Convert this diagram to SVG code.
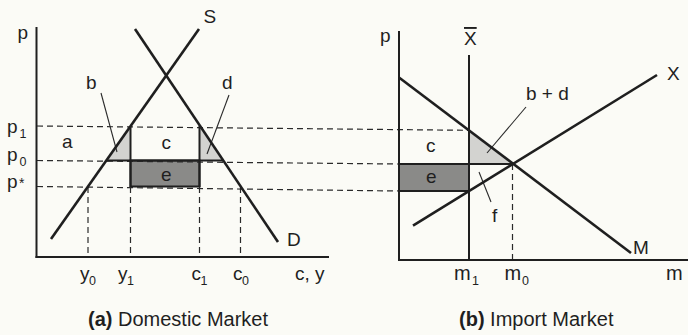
<svg xmlns="http://www.w3.org/2000/svg" width="688" height="335" viewBox="0 0 688 335">
<style>
.bg{fill:#fbfbf6}
.ax{stroke:#1f1f1f;stroke-width:2;fill:none;stroke-linecap:square}
.cv{stroke:#1f1f1f;stroke-width:2.6;fill:none;stroke-linecap:butt}
.sl{stroke:#1f1f1f;stroke-width:2;fill:none}
.ds{stroke:#2a2a2a;stroke-width:1.2;fill:none;stroke-dasharray:6 4}
.ld{stroke:#2a2a2a;stroke-width:1.1;fill:none}
.lt{fill:#d3d3d0}
.dk{fill:#8a8a88;stroke:#1f1f1f;stroke-width:2}
text{font-family:"Liberation Sans",Arial,sans-serif;fill:#1f1f1f}
.lb{font-size:19px}
.mm{font-size:20px}
.sb{font-size:12.5px}
.tt{font-size:20px}
</style>
<rect class="bg" x="0" y="0" width="688" height="335"/>

<g id="shading">
  <polygon class="lt" points="106.5,160.5 130.5,126 130.5,160.5"/>
  <polygon class="lt" points="200,126 200,160.5 223,160.5"/>
  <polygon class="lt" points="469,130.5 469,164 513,164"/>
  <rect class="dk" x="130.5" y="160.5" width="69" height="26"/>
  <rect class="dk" x="399" y="164" width="70" height="27"/>
</g>

<g id="connectors">
  <line class="ds" x1="37" y1="126" x2="469" y2="130.3"/>
  <line class="ds" x1="37" y1="160.5" x2="399" y2="164"/>
  <line class="ds" x1="37" y1="186.5" x2="399" y2="191"/>
  <line class="ds" x1="88" y1="187" x2="88" y2="257"/>
  <line class="ds" x1="130.5" y1="187" x2="130.5" y2="257"/>
  <line class="ds" x1="199.5" y1="187" x2="199.5" y2="257"/>
  <line class="ds" x1="240.5" y1="187" x2="240.5" y2="257"/>
  <line class="ds" x1="512.5" y1="164" x2="512.5" y2="260"/>
  <line class="sl" x1="130.5" y1="126" x2="130.5" y2="187"/>
  <line class="sl" x1="199.5" y1="126" x2="199.5" y2="187"/>
  <line class="sl" x1="106" y1="160.5" x2="223" y2="160.5"/>
  <line class="sl" x1="399" y1="164" x2="513" y2="164"/>
  <line class="ld" x1="101" y1="93" x2="117" y2="152"/>
  <line class="ld" x1="229" y1="95" x2="207" y2="154"/>
  <line class="ld" x1="526" y1="107" x2="487" y2="153"/>
  <line class="ld" x1="479" y1="172" x2="491" y2="202"/>
</g>

<g id="domestic-axes">
  <line class="ax" x1="36.5" y1="28" x2="36.5" y2="257"/>
  <line class="ax" x1="36.5" y1="257" x2="328" y2="257"/>
  <text class="lb" x="17.5" y="38.5">p</text>
  <text class="lb" x="7" y="133">p</text><text class="sb" x="19.5" y="137.5">1</text>
  <text class="lb" x="7" y="161">p</text><text class="sb" x="19.5" y="165.5">0</text>
  <text class="lb" x="7" y="187.5">p</text><text class="sb" x="19" y="188" style="font-size:14px">*</text>
  <text class="lb" x="80" y="280">y</text><text class="sb" x="89" y="285">0</text>
  <text class="lb" x="118" y="280">y</text><text class="sb" x="127" y="285">1</text>
  <text class="lb" x="191.5" y="280">c</text><text class="sb" x="200.5" y="285">1</text>
  <text class="lb" x="233" y="280">c</text><text class="sb" x="242" y="285">0</text>
  <text class="lb" x="295" y="280">c, y</text>
</g>

<g id="supply-S">
  <line class="cv" x1="51" y1="239" x2="199" y2="29"/>
  <text class="lb" x="203.5" y="23">S</text>
</g>
<g id="demand-D">
  <line class="cv" x1="135" y1="29" x2="278" y2="242"/>
  <text class="lb" x="287" y="246">D</text>
</g>

<g id="domestic-labels">
  <text class="lb" x="86" y="89">b</text>
  <text class="lb" x="222" y="89">d</text>
  <text class="lb" x="62" y="148">a</text>
  <text class="lb" x="161.5" y="149">c</text>
  <text class="lb" x="161" y="181">e</text>
</g>

<g id="import-axes">
  <line class="ax" x1="399" y1="32" x2="399" y2="260"/>
  <line class="ax" x1="399" y1="260" x2="688" y2="260"/>
  <text class="lb" x="380" y="42">p</text>
  <text class="mm" x="454" y="280">m</text><text class="sb" x="472" y="285">1</text>
  <text class="mm" x="504.5" y="280">m</text><text class="sb" x="522" y="285">0</text>
  <text class="mm" x="666" y="280">m</text>
</g>

<g id="quota-Xbar">
  <line class="sl" x1="469" y1="55" x2="469" y2="260"/>
  <text class="lb" x="464" y="45" style="text-decoration:overline">X</text>
</g>
<g id="import-demand-M">
  <line class="cv" x1="399" y1="77.5" x2="631" y2="253"/>
  <text class="lb" x="633" y="254">M</text>
</g>
<g id="export-supply-X">
  <line class="cv" x1="413" y1="225.7" x2="657" y2="75"/>
  <text class="lb" x="667" y="80">X</text>
</g>

<g id="import-labels">
  <text class="lb" x="526" y="99.5">b + d</text>
  <text class="lb" x="426" y="152">c</text>
  <text class="lb" x="426" y="183">e</text>
  <text class="lb" x="492" y="222">f</text>
</g>

<g id="titles">
  <text class="tt" x="88" y="326"><tspan font-weight="bold">(a)</tspan> Domestic Market</text>
  <text class="tt" x="459" y="326"><tspan font-weight="bold">(b)</tspan> Import Market</text>
</g>
</svg>
